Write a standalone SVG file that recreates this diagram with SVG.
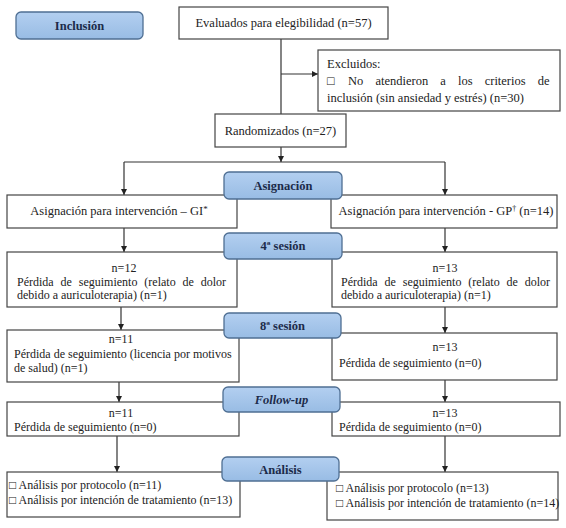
<svg xmlns="http://www.w3.org/2000/svg" width="566" height="528" viewBox="0 0 566 528">
<defs>
<linearGradient id="lg" x1="0" y1="0" x2="0" y2="1">
<stop offset="0" stop-color="#b3cff0"/>
<stop offset="1" stop-color="#98bce4"/>
</linearGradient>
<marker id="ah" viewBox="0 0 10 10" refX="10" refY="5" markerWidth="6" markerHeight="6" markerUnits="userSpaceOnUse" orient="auto">
<path d="M0,0 L10,5 L0,10 z" fill="#222"/>
</marker>
<style>
.box{fill:#fff;stroke:#444;stroke-width:1.2}
.lab{fill:url(#lg);stroke:#4f6f93;stroke-width:1.3}
.lt{font-family:"Liberation Serif","Times New Roman",serif;font-size:12.5px;font-weight:bold;fill:#1c2b4a;text-anchor:middle}
.t{font-family:"Liberation Serif","Times New Roman",serif;font-size:12px;fill:#222}
.tb{font-family:"Liberation Serif","Times New Roman",serif;font-size:12.5px;fill:#222}
.c{text-anchor:middle}
.ln{fill:none;stroke:#333;stroke-width:1.2}
.ar{fill:none;stroke:#333;stroke-width:1.2;marker-end:url(#ah)}
</style>
</defs>
<rect width="566" height="528" fill="#fff"/>

<g id="connectors">
<line class="ln" x1="281" y1="39" x2="281" y2="114"/>
<line class="ar" x1="281" y1="74" x2="318" y2="74"/>
<line class="ar" x1="281" y1="147" x2="281" y2="162"/>
<line class="ln" x1="124" y1="162" x2="445" y2="162"/>
<line class="ar" x1="124" y1="162" x2="124" y2="195"/>
<line class="ar" x1="445" y1="162" x2="445" y2="195"/>
<line class="ar" x1="124" y1="228" x2="124" y2="252"/>
<line class="ar" x1="445" y1="228" x2="445" y2="252"/>
<line class="ar" x1="121" y1="307" x2="121" y2="330"/>
<line class="ar" x1="445" y1="307" x2="445" y2="333"/>
<line class="ar" x1="119" y1="382" x2="119" y2="402"/>
<line class="ar" x1="445" y1="380" x2="445" y2="402"/>
<line class="ar" x1="117" y1="436" x2="117" y2="472"/>
<line class="ar" x1="445" y1="436" x2="445" y2="472"/>
</g>

<g id="inclusion">
<rect class="lab" x="16" y="12" width="127" height="27" rx="5"/>
<text class="lt" x="79.5" y="30">Inclusión</text>
</g>

<g id="evaluados">
<rect class="box" x="179" y="7" width="209" height="32"/>
<text class="tb c" x="283.5" y="27">Evaluados para elegibilidad (n=57)</text>
</g>

<g id="excluidos">
<rect class="box" x="318" y="50" width="242" height="61"/>
<text class="tb" x="327" y="68">Excluidos:</text>
<text class="tb" x="327" y="85">□</text>
<text class="tb" x="348" y="85" word-spacing="9">No atendieron a los criterios de</text>
<text class="tb" x="327" y="102">inclusión (sin ansiedad y estrés) (n=30)</text>
</g>

<g id="randomizados">
<rect class="box" x="215" y="114" width="131" height="33"/>
<text class="tb c" x="280.5" y="135">Randomizados (n=27)</text>
</g>

<g id="gi">
<rect class="box" x="7" y="195" width="230" height="33"/>
<text class="tb c" x="119" y="215">Asignación para intervención – GI<tspan font-size="9" dy="-3">*</tspan></text>
</g>

<g id="gp">
<rect class="box" x="331" y="195" width="226" height="33"/>
<text class="tb c" x="446" y="215">Asignación para intervención - GP<tspan font-size="8" dy="-4">†</tspan><tspan dy="4"> (n=14)</tspan></text>
</g>

<g id="asignacion">
<rect class="lab" x="224" y="172" width="118" height="27" rx="5"/>
<text class="lt" x="283" y="190">Asignación</text>
</g>

<g id="gi-4">
<rect class="box" x="7" y="252" width="230" height="55"/>
<text class="t c" x="124" y="272">n=12</text>
<text class="t" x="17" y="286" word-spacing="3.9">Pérdida de seguimiento (relato de dolor</text>
<text class="t" x="17" y="299">debido a auriculoterapia) (n=1)</text>
</g>

<g id="gp-4">
<rect class="box" x="332" y="252" width="225" height="55"/>
<text class="t c" x="445" y="272">n=13</text>
<text class="t" x="341" y="286" word-spacing="3.9">Pérdida de seguimiento (relato de dolor</text>
<text class="t" x="341" y="299">debido a auriculoterapia) (n=1)</text>
</g>

<g id="sesion4">
<rect class="lab" x="224" y="233" width="118" height="26" rx="5"/>
<text class="lt" x="283" y="250">4ª sesión</text>
</g>

<g id="gi-8">
<rect class="box" x="7" y="330" width="232" height="52"/>
<text class="t c" x="121" y="343">n=11</text>
<text class="t" x="14" y="358">Pérdida de seguimiento (licencia por motivos</text>
<text class="t" x="14" y="372">de salud) (n=1)</text>
</g>

<g id="gp-8">
<rect class="box" x="332" y="333" width="225" height="47"/>
<text class="t c" x="445" y="351">n=13</text>
<text class="t" x="339" y="367">Pérdida de seguimiento (n=0)</text>
</g>

<g id="sesion8">
<rect class="lab" x="224" y="313" width="117" height="25" rx="5"/>
<text class="lt" x="282.5" y="330">8ª sesión</text>
</g>

<g id="gi-fu">
<rect class="box" x="7" y="402" width="232" height="34"/>
<text class="t c" x="121" y="417">n=11</text>
<text class="t" x="14" y="431">Pérdida de seguimiento (n=0)</text>
</g>

<g id="gp-fu">
<rect class="box" x="332" y="402" width="228" height="34"/>
<text class="t c" x="445" y="417">n=13</text>
<text class="t" x="339" y="431">Pérdida de seguimiento (n=0)</text>
</g>

<g id="followup">
<rect class="lab" x="223" y="387" width="117" height="25" rx="5"/>
<text class="lt" x="281.5" y="404" font-style="italic">Follow-up</text>
</g>

<g id="gi-an">
<rect class="box" x="7" y="472" width="233" height="45"/>
<text class="t" x="9" y="489">□ Análisis por protocolo (n=11)</text>
<text class="t" x="9" y="504">□ Análisis por intención de tratamiento (n=13)</text>
</g>

<g id="gp-an">
<rect class="box" x="327" y="472" width="231" height="48"/>
<text class="t" x="336" y="492">□ Análisis por protocolo (n=13)</text>
<text class="t" x="336" y="507">□ Análisis por intención de tratamiento (n=14)</text>
</g>

<g id="analisis">
<rect class="lab" x="222" y="457" width="117" height="24" rx="5"/>
<text class="lt" x="280.5" y="474">Análisis</text>
</g>
</svg>
